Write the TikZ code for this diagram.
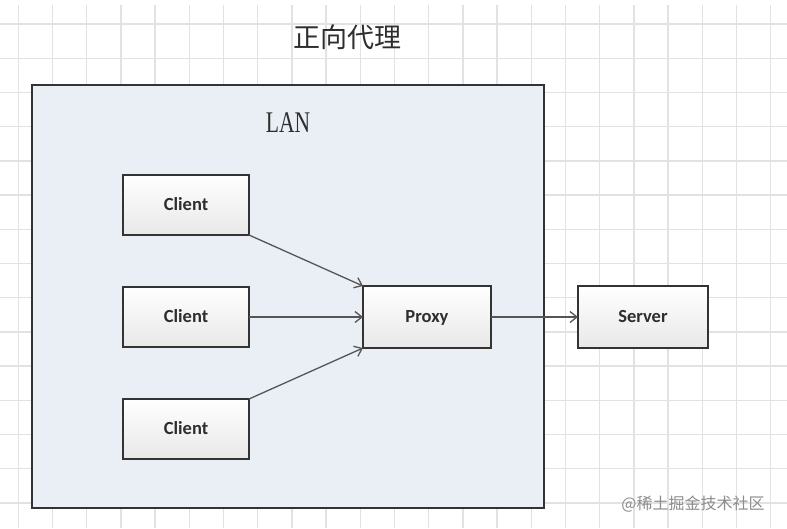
\documentclass[tikz,border=0pt]{standalone}
\usepackage{fontspec}
\setmainfont{Liberation Serif}
\newfontfamily\cjkfont{Noto Sans CJK SC}
\newfontfamily\labelfont{Carlito}
\usetikzlibrary{arrows.meta}
\definecolor{gridc}{HTML}{E2E2E2}
\definecolor{lanfill}{HTML}{EAEFF6}
\definecolor{edgec}{HTML}{333333}
\definecolor{txtc}{HTML}{2E2E2E}
\definecolor{arrc}{HTML}{555555}
\tikzset{
  gridline/.style={draw=gridc, line width=1.4pt},
  lanbox/.style={draw=edgec, fill=lanfill, line width=1.8pt, outer sep=0pt, inner sep=0pt, anchor=north west},
  nodebox/.style={draw=edgec, line width=1.5pt, top color=white, bottom color=black!9, outer sep=0pt,
     minimum width=126pt, minimum height=60pt, text=txtc, text height=11pt, text depth=0pt,
     font=\labelfont\bfseries\fontsize{18.5}{20}\selectfont},
  conn/.style={draw=arrc, line width=1.3pt, -{Straight Barb[length=7pt,width=11pt,line width=1.3pt]}}
}
\begin{document}
\begin{tikzpicture}[x=1pt,y=-1pt]
\useasboundingbox (0,0) rectangle (787,528);
\fill[white] (0,0) rectangle (787,528);
\foreach \i in {0,...,22} \draw[gridline] ({18.3+34.2*\i},5) -- ({18.3+34.2*\i},528);
\foreach \j in {0,...,14} \draw[gridline] (0,{24+34.2*\j}) -- (787,{24+34.2*\j});
\node[lanbox, minimum width=512pt, minimum height=423pt] (lan) at (32,85) {};
\node[text=txtc, font=\cjkfont\fontsize{27}{27}\selectfont] (title) at (347,37) {正向代理};
\node[text=txtc, font=\fontsize{30}{30}\selectfont] (lanlabel) at (288,123) {\scalebox{0.72}[1]{LAN}};
\node[nodebox] (c1) at (186,205) {Client};
\node[nodebox] (c2) at (186,317) {Client};
\node[nodebox] (c3) at (186,429) {Client};
\node[nodebox, minimum width=128pt, minimum height=62pt] (proxy) at (427,317) {Proxy};
\node[nodebox, minimum width=130pt, minimum height=62pt] (server) at (643,317) {Server};
\draw[conn] (c1.south east) -- (proxy.north west);
\draw[conn] (c2.east) -- (proxy.west);
\draw[conn] (c3.north east) -- (proxy.south west);
\draw[conn] (proxy.east) -- (server.west);
\node[text=black!45, font=\cjkfont\fontsize{16}{16}\selectfont] (wm) at (693,504) {@稀土掘金技术社区};
\end{tikzpicture}
\end{document}
